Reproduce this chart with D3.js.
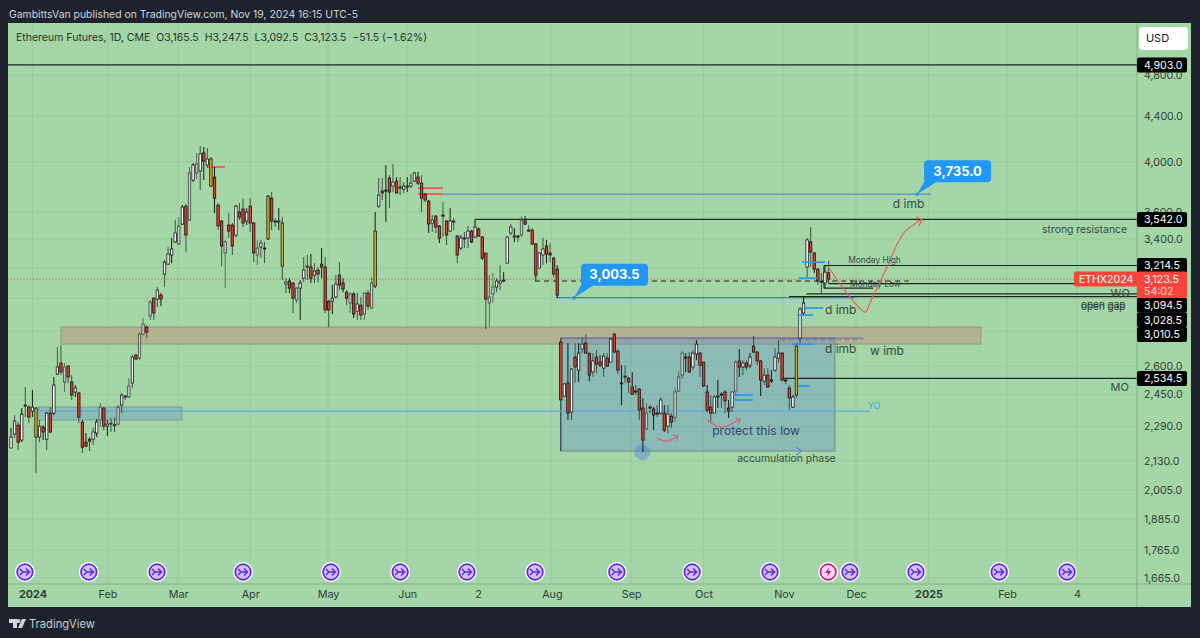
<!DOCTYPE html>
<html><head><meta charset="utf-8">
<script src="https://cdn.jsdelivr.net/npm/d3@7"></script>
<style>html,body{margin:0;padding:0;background:#1e222d}svg{display:block}text{font-family:Inter,Roboto,sans-serif}</style>
</head><body><svg id="c" width="1200" height="638"></svg>
<script>
// ---- candle data, one entry per session ----
const opens=[2189,2254,2297,2226,2396,2386,2366,2381,2240,2287,2230,2356,2356,2558,2618,2515,2601,2515,2463,2458,2312,2216,2230,2230,2259,2322,2381,2292,2302,2297,
2302,2396,2437,2437,2510,2662,2645,2782,2824,2890,3001,2995,3020,3157,3224,3286,3378,3363,3507,3642,3537,3848,3906,3922,4073,3971,4022,3872,3650,3530,
3300,3500,3500,3427,3597,3620,3530,3642,3515,3286,3342,3335,3399,3704,3530,3522,3515,3091,3111,3098,2989,3065,3130,3204,3204,3150,3184,3224,3204,2982,
2982,3008,3150,3098,3039,2970,3027,2920,2957,2902,3033,2939,3078,3642,3760,3767,3864,3799,3839,3791,3775,3791,3799,3839,3872,3823,3736,3681,3515,3567,
3493,3574,3530,3456,3522,3420,3335,3406,3406,3456,3413,3471,3413,3300,2970,3027,3072,3098,3111,3230,3442,3413,3420,3427,3530,3463,3463,3363,3197,3286,
3349,3300,3265,3190,2735,2442,2510,2361,2651,2579,2696,2730,2673,2569,2651,2623,2590,2645,2623,2782,2684,2510,2547,2536,2489,2468,2478,2381,2278,2386,
2376,2356,2356,2356,2292,2341,2336,2468,2552,2651,2651,2596,2668,2673,2623,2463,2386,2356,2442,2452,2463,2381,2386,2468,2629,2596,2618,2606,2713,2679,
2629,2520,2552,2526,2579,2645,2673,2526,2484,2386,2447,2759,2908,3204,3378,3300,3190,3111,3098,3165.5];
const highs=[2283,2346,2312,2381,2489,2396,2473,2386,2322,2297,2361,2386,2542,2707,2718,2618,2606,2552,2499,2463,2322,2259,2240,2283,2327,2406,2386,2322,2332,2336,
2396,2458,2447,2536,2662,2668,2794,2878,2835,2989,3008,3072,3033,3251,3342,3406,3537,3559,3650,3658,3955,3988,4073,4133,4125,4116,4039,3955,3666,3537,
3392,3589,3515,3650,3666,3704,3627,3704,3522,3392,3392,3378,3728,3752,3552,3627,3559,3130,3130,3104,3072,3117,3272,3286,3293,3230,3204,3335,3272,2989,
3085,3150,3237,3130,3052,3039,3039,3033,3008,3039,3052,3137,3597,3864,3864,3971,3888,3980,3872,3872,3831,3872,3897,3914,3914,3888,3744,3689,3574,3574,
3500,3673,3537,3627,3552,3427,3427,3449,3493,3463,3544,3485,3420,3300,3150,3164,3130,3217,3170,3420,3507,3478,3427,3567,3567,3500,3478,3370,3307,3406,
3392,3370,3272,3217,2741,2510,2730,2590,2730,2730,2765,2782,2673,2673,2690,2662,2673,2673,2759,2788,2696,2606,2606,2542,2569,2499,2484,2432,2406,2396,
2386,2396,2437,2396,2396,2356,2484,2574,2684,2673,2679,2690,2747,2679,2623,2499,2447,2447,2526,2463,2473,2422,2463,2634,2696,2634,2634,2673,2771,2684,
2634,2590,2590,2579,2701,2747,2679,2536,2499,2447,2730,2945,3008,3406,3485,3307,3197,3164,3217,3247.5];
const lows=[2189,2235,2179,2216,2336,2307,2336,2076,2216,2226,2179,2259,2346,2552,2552,2463,2510,2422,2437,2307,2166,2193,2175,2202,2240,2287,2273,2245,2264,2264,
2297,2356,2422,2432,2484,2634,2634,2776,2759,2866,2866,2945,2951,3072,3217,3230,3370,3356,3500,3307,3530,3831,3856,3767,3848,3947,3791,3589,3463,3210,
3065,3406,3286,3413,3537,3485,3500,3449,3237,3217,3265,3230,3392,3463,3485,3463,3117,3033,3033,2908,2970,2866,3104,3117,3098,3098,3104,3130,2908,2824,
2902,3001,3052,3039,2957,2908,2878,2866,2866,2866,2927,2933,3065,3627,3689,3522,3627,3752,3744,3728,3744,3752,3783,3831,3807,3597,3673,3442,3449,3442,
3370,3413,3356,3449,3463,3230,3321,3335,3335,3370,3406,3413,3251,2812,2824,2970,3039,3052,3104,3230,3427,3378,3378,3413,3500,3449,3356,3111,3190,3217,
3230,3237,3137,3001,2422,2437,2322,2322,2510,2515,2673,2673,2520,2542,2563,2596,2542,2596,2623,2673,2558,2396,2510,2458,2447,2447,2322,2170,2273,2356,
2273,2336,2346,2264,2259,2283,2312,2463,2531,2569,2563,2579,2634,2542,2489,2361,2312,2356,2381,2381,2356,2332,2361,2447,2542,2552,2579,2590,2673,2606,
2442,2499,2484,2510,2569,2618,2520,2505,2371,2381,2432,2730,2896,3137,3204,3164,3085,3033,3065,3092.5];
const closes=[2240,2317,2216,2351,2394,2336,2386,2240,2292,2264,2356,2264,2499,2596,2569,2596,2542,2447,2484,2336,2193,2198,2221,2264,2312,2386,2292,2302,2307,2299,
2386,2447,2442,2494,2651,2640,2782,2841,2794,2976,2908,3052,2995,3237,3293,3328,3442,3493,3635,3427,3906,3971,3980,4065,4005,4022,3799,3704,3493,3349,
3378,3456,3349,3642,3559,3515,3597,3515,3300,3335,3370,3328,3720,3530,3522,3530,3210,3104,3065,3001,3065,3098,3184,3210,3130,3177,3157,3204,2927,2927,
3001,3091,3085,3059,3001,3027,2902,2964,2896,3033,2951,3098,3456,3728,3744,3763,3752,3831,3744,3783,3799,3799,3823,3906,3823,3704,3689,3507,3537,3485,
3406,3567,3427,3530,3530,3286,3406,3399,3456,3378,3485,3420,3265,2995,3008,3072,3111,3111,3117,3413,3485,3420,3413,3537,3507,3456,3363,3150,3300,3328,
3293,3286,3157,3020,2422,2505,2356,2585,2596,2673,2724,2673,2552,2629,2612,2606,2656,2601,2753,2679,2579,2505,2542,2515,2452,2463,2371,2226,2356,2381,
2346,2351,2422,2273,2351,2312,2463,2542,2673,2645,2569,2673,2724,2606,2494,2371,2356,2437,2437,2447,2417,2366,2463,2623,2596,2618,2596,2651,2679,2629,
2526,2552,2489,2520,2651,2673,2526,2522,2432,2437,2713,2933,2970,3392,3307,3190,3111,3104,3170,3123.5];
// sessions drawn with a yellow body / a grey body
const yellowSessions=[7,56,72,76,102,220];
const greySessions=[15,25,30,33,36,37,39,47,50,52,60,69,80,95,99,101,134,135,143,178,186,187,188,203];

// ---- axis data ----
const priceTicks=[4800,4400,4000,3600,3400,2600,2450,2290,2130,2005,1885,1765,1665];
const gridPrices=[4800,4400,4000,3600,3400,3200,3000,2800,2600,2450,2290,2130,2005,1885,1765,1665];
const timeTickSessions=[6,27,46.8,67,88.8,111,130.8,151.5,173.7,194,216.5,236.7,257,279,298.6];
const timeTickLabels=["2024","Feb","Mar","Apr","May","Jun","2","Aug","Sep","Oct","Nov","Dec","2025","Feb","4"];
const boldTickLabels=["2024","2025"];
const eventSessions=[3.9,21.8,40.9,65,89.6,109,127.7,146.8,169.7,190.8,212.6,235,253.5,276.8,295.8];
const earningsSession=228.9;

// ---- drawings, in [session, session, price] terms ----
const priceTags=[4903,3542,3214.5,3094.5,3028.5,3010.5,2534.5];
const tagLabels=["4,903.0","3,542.0","3,214.5","3,094.5","3,028.5","3,010.5","2,534.5"];
const tagNudge=[0,0,0,21.4,26,38,0];
const blackLevels=[[-1,400,4903],[130,400,3542],[227.7,400,3214.5],[229,400,3094.5],[222.8,400,3028.5],[217.9,400,3010.5],[216,400,2534.5],[227.7,241.5,3065]];
const blueSegments=[[221.6,228,3237],[220.7,225.8,3130],[222,227.5,2939],[220.2,224.7,2896],[218.8,224.7,2724],[220.4,223.8,2494],[202.2,207.8,2447],[202.2,207.8,2422]];
const redSegments=[[54.9,59.9,3955],[114,121,3783],[114,121,3736]];
const callouts=[["3,735.0",253.8,3735],["3,003.5",157.7,3003.5]];
const notes=[["d imb",247,3658,12],["strong resistance",288.8,3471,10.4],["Monday High",234.5,3251,8.4],["Monday Low",235,3091,8.4],
["WO",308,3033,11],["open gap",299.7,2964,10],["open gap",299.7,2951,10],["d imb",228,2927,12],["d imb",228,2696,12],["w imb",240.6,2684,12],
["protect this low",196.4,2268,12.1],["accumulation phase",203.4,2143,10.4],["MO",308,2489,11]];
const forecastPath=[[228.9,3204],[239.3,2914],[240.5,2966],[245,3184],[250,3440],[254,3524],[255.2,3540]];
const pinkArcs=[[[181,2235],[183.8,2221],[186.8,2245]],[[195,2322],[199.2,2287],[204.2,2327]]];

const W=1200,H=638,L=8,T=23,R=1191,B=607,AX=1137,TB=584;
const svg=d3.select("#c");
const x=d3.scaleLinear().domain([0,315.4]).range([11,AX]);
const y=d3.scaleLog().domain([4800,1665]).range([75,578]);

svg.append("rect").attr("width",W).attr("height",H).attr("fill","#1e222d");
svg.append("text").attr("x",9).attr("y",18).attr("font-size",10.4).attr("fill","#d1d4dc").text("GambittsVan published on TradingView.com, Nov 19, 2024 16:15 UTC-5");
svg.append("rect").attr("x",L).attr("y",T).attr("width",R-L).attr("height",B-T).attr("fill","#a5d6a7");

const defs=svg.append("defs");
defs.append("clipPath").attr("id","pane").append("rect").attr("x",L).attr("y",T).attr("width",AX-L).attr("height",TB-T);
const pane=svg.append("g").attr("clip-path","url(#pane)");
// grid
pane.selectAll(".gh").data(gridPrices).join("line").attr("x1",L).attr("x2",AX).attr("y1",d=>y(d)).attr("y2",d=>y(d)).attr("stroke","rgba(60,80,60,.07)");
pane.selectAll(".gv").data(timeTickSessions).join("line").attr("x1",d=>x(d)).attr("x2",d=>x(d)).attr("y1",T).attr("y2",TB).attr("stroke","rgba(60,80,60,.07)");

function band(cls,i0,i1,p0,p1,fill,stroke){
  pane.append("rect").attr("class",cls).attr("x",x(i0)).attr("width",x(i1)-x(i0)).attr("y",y(p0)).attr("height",y(p1)-y(p0)).attr("fill",fill).attr("stroke",stroke).attr("stroke-width",1.2);
}
const line=(a,b,p,col,w,dash)=>pane.append("line").attr("x1",x(a)).attr("x2",x(b)).attr("y1",y(p)).attr("y2",y(p)).attr("stroke",col).attr("stroke-width",w).attr("stroke-dasharray",dash||null);

band("z",14,271.7,2824,2724,"rgba(190,150,125,.55)","rgba(120,120,120,.45)");
band("z",7.6,47.9,2386,2322,"rgba(90,140,210,.33)","rgba(110,120,140,.45)");
band("z",154,230.8,2759,2175,"rgba(90,130,210,.33)","rgba(100,110,130,.55)");
pane.append("line").attr("x1",x(154)).attr("x2",x(154)).attr("y1",y(2759)).attr("y2",y(2175)).attr("stroke","#2b3a33").attr("stroke-width",1);
line(154,238.7,2759,"rgba(70,70,190,.6)",1);
line(215.6,238.7,2750,"rgba(90,70,200,.45)",1.5,"5 3");
pane.append("circle").attr("cx",x(176.8)).attr("cy",y(2170)).attr("r",8).attr("fill","rgba(70,125,225,.4)");

// current price dotted
line(-1,400,3123.5,"#f23645",1,"1.2 2");
// levels
blackLevels.forEach(d=>line(d[0],d[1],d[2],"#1c261f",1.2));
pane.append("line").attr("x1",x(130)).attr("x2",x(130)).attr("y1",y(3542)).attr("y2",y(3440)).attr("stroke","#3a4a40");
pane.append("line").attr("x1",x(227.7)).attr("x2",x(227.7)).attr("y1",y(3214.5)).attr("y2",y(3065)).attr("stroke","#1c261f");
line(146.8,252.4,3111,"#1c261f",1,"5 4");
line(7.6,240.6,2366,"#5aa9e6",1.3);
line(121,257.7,3735,"#4a7fc8",1);
line(152.7,236.4,3003.5,"#2962ff",1);
redSegments.forEach(d=>line(d[0],d[1],d[2],"#f2545b",1.8));

// candles
const idx=d3.range(opens.length);
const bodyFill=i=>yellowSessions.includes(i)?"#d9b61c":closes[i]<opens[i]?"#e8392b":greySessions.includes(i)?"#c9cbc9":"#ffffff";
const g=pane.append("g");
g.selectAll(".w").data(idx).join("line").attr("x1",i=>x(i)).attr("x2",i=>x(i)).attr("y1",i=>y(highs[i])).attr("y2",i=>y(lows[i]))
 .attr("stroke",i=>greySessions.includes(i)?"#55705c":i%3==0?"#141a16":"#3c5245").attr("stroke-width",1);
g.selectAll(".b").data(idx).join("rect").attr("x",i=>x(i)-1.2).attr("width",2.4)
 .attr("y",i=>y(Math.max(opens[i],closes[i]))).attr("height",i=>Math.max(1,Math.abs(y(opens[i])-y(closes[i]))))
 .attr("fill",i=>bodyFill(i)).attr("stroke",i=>greySessions.includes(i)?"#3c4a40":"#141414").attr("stroke-width",.8);

blueSegments.forEach(d=>line(d[0],d[1],d[2],"#2196f3",1.6));

// curved marks
const curve=d3.line().x(d=>x(d[0])).y(d=>y(d[1])).curve(d3.curveCatmullRom.alpha(.5));
pane.append("path").attr("d",curve(forecastPath)).attr("fill","none").attr("stroke","#ee5a55").attr("stroke-width",1.1);
const last=forecastPath[forecastPath.length-1];
pane.append("path").attr("d",`M${x(last[0])-6},${y(last[1])-3}L${x(last[0])},${y(last[1])}L${x(last[0])-3},${y(last[1])+6}`).attr("fill","none").attr("stroke","#ee5a55").attr("stroke-width",1.1);
const arc=d3.line().x(d=>x(d[0])).y(d=>y(d[1])).curve(d3.curveNatural);
pinkArcs.forEach(a=>{
  pane.append("path").attr("d",arc(a)).attr("fill","none").attr("stroke","#d8617f").attr("stroke-width",1.2);
  const e=a[a.length-1];
  pane.append("path").attr("d",`M${x(e[0])-5},${y(e[1])-1}L${x(e[0])},${y(e[1])}L${x(e[0])-1},${y(e[1])+5}`).attr("fill","none").attr("stroke","#d8617f").attr("stroke-width",1.2);
});
// chevron
pane.append("path").attr("d",`M${x(220.5)-2},${y(2175)-4}L${x(220.5)+3},${y(2175)}L${x(220.5)-2},${y(2175)+4}`).attr("fill","none").attr("stroke","#4a7fe0").attr("stroke-width",1.1);

// notes
pane.selectAll(".n").data(notes).join("text").attr("x",d=>x(d[1])).attr("y",d=>y(d[2])).attr("dy","0.35em")
 .attr("font-size",d=>d[3]).attr("fill",d=>d[0]==="protect this low"?"#24406a":"#2f3e3a").attr("opacity",.92).text(d=>d[0]);
pane.append("text").attr("x",x(240)).attr("y",y(2391)).attr("dy","0.35em").attr("font-size",9).attr("fill","#4aa3df").text("YO");

// callouts
callouts.forEach(c=>{
  const px=x(c[1]),py=y(c[2]);
  pane.append("path").attr("d",`M${px},${py}L${px+8},${py-14}L${px+19},${py-12}Z`).attr("fill","#2196f3");
  pane.append("circle").attr("cx",px).attr("cy",py).attr("r",1.8).attr("fill","#2196f3");
  pane.append("rect").attr("x",px+7).attr("y",py-34).attr("width",67).attr("height",22).attr("rx",4).attr("fill","#2196f3");
  pane.append("text").attr("x",px+40.5).attr("y",py-23).attr("dy","0.36em").attr("text-anchor","middle").attr("font-size",13).attr("font-weight",700).attr("fill","#fff").text(c[0]);
});

// event icons
const ev=svg.append("g");
function icon(px,bolt){
  const gi=ev.append("g").attr("transform",`translate(${px},572)`);
  gi.append("circle").attr("r",10).attr("fill","#fff");
  gi.append("circle").attr("r",7.8).attr("fill",bolt?"#f6d5ee":"#c9c4ea").attr("stroke",bolt?"#c2187f":"#6a1fe8").attr("stroke-width",1.7);
  if(bolt){gi.append("path").attr("d","M1,-5L-3,1H0L-1,5L3,-1H0Z").attr("fill","#c2187f");}
  else{gi.append("path").attr("d","M-5,-3L-2,0L-5,3M-2,0H4M1,-3.5L4.5,0L1,3.5").attr("fill","none").attr("stroke","#6a1fe8").attr("stroke-width",1.4);}
}
eventSessions.forEach(d=>icon(x(d),false));
icon(x(earningsSession),true);

// axes
svg.append("line").attr("x1",AX).attr("x2",AX).attr("y1",T).attr("y2",B).attr("stroke","rgba(50,70,55,.25)");
svg.append("line").attr("x1",L).attr("x2",R).attr("y1",TB).attr("y2",TB).attr("stroke","rgba(50,70,55,.25)");
const ya=svg.append("g").attr("transform",`translate(${AX},0)`).call(d3.axisRight(y).tickValues(priceTicks).tickSize(0).tickPadding(7).tickFormat(d3.format(",.1f")));
ya.select(".domain").remove();
ya.selectAll("text").attr("font-size",10.6).attr("fill","#2f4038").attr("font-family","Inter,Roboto,sans-serif");
const xa=svg.append("g").attr("transform",`translate(0,${TB})`).call(d3.axisBottom(x).tickValues(timeTickSessions).tickSize(0).tickPadding(6).tickFormat((d,i)=>timeTickLabels[i]));
xa.select(".domain").remove();
xa.selectAll("text").attr("font-size",10.8).attr("fill","#2f4038").attr("font-family","Inter,Roboto,sans-serif")
  .attr("font-weight",(d,i)=>boldTickLabels.includes(timeTickLabels[i])?700:400);

// price tags
priceTags.forEach((p,i)=>{
  const py=y(p)+tagNudge[i];
  svg.append("rect").attr("x",AX).attr("y",py-7.5).attr("width",50).attr("height",15).attr("rx",2).attr("fill","#000");
  svg.append("text").attr("x",AX+7).attr("y",py).attr("dy","0.36em").attr("font-size",10.6).attr("fill","#fff").text(tagLabels[i]);
});
const cy=y(3123.5);
svg.append("rect").attr("x",AX-63).attr("y",cy-7.5).attr("width",64).attr("height",15).attr("rx",2).attr("fill","#f7453b");
svg.append("text").attr("x",AX-31).attr("y",cy).attr("dy","0.36em").attr("text-anchor","middle").attr("font-size",10.6).attr("fill","#fff").text("ETHX2024");
svg.append("rect").attr("x",AX).attr("y",cy-7.5).attr("width",50).attr("height",26.5).attr("rx",2).attr("fill","#f7453b");
svg.append("text").attr("x",AX+7).attr("y",cy).attr("dy","0.36em").attr("font-size",10.6).attr("fill","#fff").text("3,123.5");
svg.append("text").attr("x",AX+7).attr("y",cy+12).attr("dy","0.36em").attr("font-size",10.6).attr("fill","#ffd7d4").text("54:02");

// header
svg.append("text").attr("x",16).attr("y",41).attr("font-size",10.5).attr("fill","#26332c").attr("xml:space","preserve")
 .text("Ethereum Futures, 1D, CME  O3,165.5  H3,247.5  L3,092.5  C3,123.5  −51.5 (−1.62%)");
svg.append("rect").attr("x",1139).attr("y",27).attr("width",49).attr("height",23).attr("rx",4).attr("fill","#fff");
svg.append("text").attr("x",1157.5).attr("y",38.5).attr("dy","0.36em").attr("text-anchor","middle").attr("font-size",11).attr("fill","#131722").text("USD");

// footer logo
svg.append("path").attr("d","M9,619H17V628H13V623H9ZM18.5,623A2,2 0 1 1 18.5,619A2,2 0 1 1 18.5,623ZM22,619H26L22,628H18Z").attr("fill","#d1d4dc");
svg.append("text").attr("x",29).attr("y",627.5).attr("font-size",11.2).attr("fill","#c7cbd4").text("TradingView");
</script></body></html>
